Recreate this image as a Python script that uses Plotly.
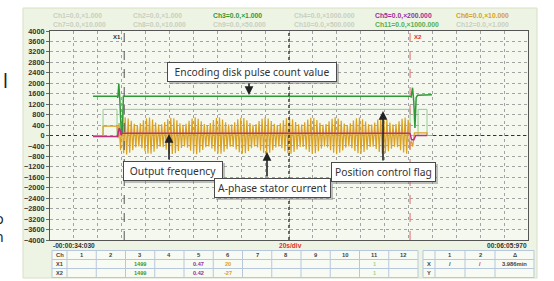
import numpy as np
import plotly.graph_objects as go

# ---------------- data (seconds from left edge of a 400 s window) ----------------
enc_t = [36.0, 56.0, 56.8, 57.6, 58.4, 59.6, 60.6, 61.4, 301.3, 302.2, 303.4, 304.4, 305.4, 306.4, 307.6, 319.6]
enc_v = [1500, 1500, 1450, 1980, 1400, 150, 100, 1500, 1500, 1480, 1830, 1300, 290, 1450, 1540, 1560]

flag_t = [36.0, 44.4, 44.4, 56.1, 56.1, 60.8, 60.8, 301.3, 301.3, 308.0, 308.0, 315.5, 315.5, 319.6]
flag_v = [0, 0, 1000, 1000, 0, 0, 1000, 1000, 0, 0, 1000, 1000, 0, 0]

freq_t = [36.0, 56.6, 57.2, 58.0, 58.8, 59.4, 60.5, 301.3, 302.5, 304.5, 306.0, 315.5]
freq_v = [-40, -40, 150, 280, 200, 20, 90, 90, -160, -160, 0, 0]

cur_pre_t = [36.0, 44.4, 44.4, 56.1, 57.0]
cur_pre_v = [0, 0, 360, 360, -100]
cur_post_t = [301.3, 302.5, 303.5, 305.0, 315.5, 315.5, 319.6]
cur_post_v = [-300, -250, -420, 100, 100, 0, 0]
osc_start, osc_end = 57.8, 301.0
cur_peaks = [
    480, 620, 700, 650, 560, 450, 400, 470,
    580, 660, 690, 610, 500, 420, 430, 520,
    620, 680, 660, 580, 470, 410, 450, 560,
    650, 700, 640, 540, 440, 400, 480, 590,
    670, 690, 610, 510, 420, 420, 510, 620,
    680, 670, 580, 480, 410, 440, 550, 640,
    700, 650, 550, 450, 400, 470, 580, 660,
    690, 620, 520, 430, 420, 510, 610, 680,
    670, 590, 490, 410, 440, 540, 640, 700,
    650, 560, 460, 400, 470, 570, 660, 690,
    620, 530, 430, 420, 500, 610, 680, 670,
    590, 500, 420, 440, 540, 640, 690, 600]
cur_troughs = [
    -560, -680, -730, -660, -560, -460, -420, -490,
    -600, -690, -700, -620, -510, -430, -450, -540,
    -640, -710, -680, -590, -480, -420, -470, -580,
    -670, -720, -650, -550, -450, -420, -500, -610,
    -690, -700, -620, -520, -430, -440, -530, -640,
    -700, -680, -590, -490, -420, -460, -570, -660,
    -720, -660, -560, -460, -420, -490, -600, -680,
    -700, -630, -530, -440, -440, -530, -630, -700,
    -680, -600, -500, -420, -460, -560, -660, -720,
    -660, -570, -470, -420, -490, -590, -680, -700,
    -630, -540, -440, -430, -520, -630, -700, -680,
    -600, -510, -430, -450, -560, -650, -700, -520]

base_t = [0, 36.0, None, 315.5, 400]
base_v = [0, 0, None, 0, 0]

x1_cursor, x2_cursor, center_t = 62.1, 301.3, 200

ch_labels_row1 = ["Ch1=0.0,×1.000", "Ch2=0.0,×1.000", "Ch3=0.0,×1.000",
                  "Ch4=0.0,×1000.000", "Ch5=0.0,×200.000", "Ch6=0.0,×10.000"]
ch_labels_row2 = ["Ch7=0.0,×10.000", "Ch8=0.0,×10.000", "Ch9=0.0,×50.000",
                  "Ch10=0.0,×500.000", "Ch11=0.0,×1000.000", "Ch12=0.0,×1.000"]

table_header = ["Ch"] + [str(i) for i in range(1, 13)]
table_x1 = ["X1", "", "", "1499", "", "0.47", "20", "", "", "", "", "1", ""]
table_x2 = ["X2", "", "", "1499", "", "0.42", "-27", "", "", "", "", "1", ""]
delta_header = ["", "1", "2", "Δ"]
delta_x = ["X", "/", "/", "3.986min"]
delta_y = ["Y", "", "", ""]

# ---------------- geometry ----------------
W, H = 554, 281
L, R, T, B = 50, 26, 31, 41
PW, PH = W - L - R, H - T - B
XR = [0, 400]
YR = [-4000, 4000]

def px(xp):
    return (xp - L) / PW

def py(yp):
    return (H - B - yp) / PH

def dx(xp):
    return XR[0] + (xp - L) / PW * (XR[1] - XR[0])

def dy(yp):
    return YR[1] - (yp - T) / PH * (YR[1] - YR[0])

GREEN = "#2f9a35"
LGREEN = "#8fd08f"
ORANGE = "#d9a024"
MAG = "#c0307a"
PURPLE = "#9a2c9a"
INACT = "#c9cfc1"

osc_t = np.linspace(osc_start, osc_end, 2 * len(cur_peaks))
osc_v = np.empty(2 * len(cur_peaks))
osc_v[0::2] = cur_peaks
osc_v[1::2] = cur_troughs
cur_t = list(cur_pre_t) + list(osc_t) + list(cur_post_t)
cur_v = list(cur_pre_v) + list(osc_v) + list(cur_post_v)

fig = go.Figure()
fig.add_trace(go.Scatter(x=base_t, y=base_v, mode="lines",
                         line=dict(color="#333", width=1, dash="dot"), hoverinfo="skip"))
fig.add_trace(go.Scatter(x=flag_t, y=flag_v, mode="lines",
                         line=dict(color=LGREEN, width=1), hoverinfo="skip"))
fig.add_trace(go.Scatter(x=cur_t, y=cur_v, mode="lines",
                         line=dict(color=ORANGE, width=1.2), hoverinfo="skip"))
fig.add_trace(go.Scatter(x=enc_t, y=enc_v, mode="lines",
                         line=dict(color=GREEN, width=1.5), hoverinfo="skip"))
fig.add_trace(go.Scatter(x=freq_t, y=freq_v, mode="lines",
                         line=dict(color=MAG, width=1.5), hoverinfo="skip"))

shapes = []
# outer panel and plot background
shapes.append(dict(type="rect", xref="paper", yref="paper", x0=px(23), x1=px(537), y0=py(278), y1=py(8),
                   fillcolor="#eef4e3", line=dict(color="#d6e0c6", width=1), layer="below"))
shapes.append(dict(type="rect", xref="paper", yref="paper", x0=0, x1=1, y0=0, y1=1,
                   fillcolor="#f4f8ee", line=dict(width=0), layer="below"))
# cursor / center lines
shapes.append(dict(type="line", xref="x", yref="paper", x0=center_t, x1=center_t, y0=0, y1=1,
                   line=dict(color="#222", width=1.3, dash="dot"), layer="above"))
shapes.append(dict(type="line", xref="x", yref="paper", x0=x1_cursor, x1=x1_cursor, y0=0, y1=1,
                   line=dict(color="#555", width=1, dash="dash"), layer="above"))
shapes.append(dict(type="line", xref="x", yref="paper", x0=x2_cursor, x1=x2_cursor, y0=0, y1=1,
                   line=dict(color="#e58080", width=1.2, dash="dash"), layer="above"))

annotations = []

def txt(xp, yp, text, color="#333", size=7, xanchor="left", bold=True, family="Liberation Sans"):
    annotations.append(dict(xref="paper", yref="paper", x=px(xp), y=py(yp), text=text,
                            showarrow=False, xanchor=xanchor, yanchor="middle",
                            font=dict(family=family, size=size, color=color,
                                      weight="bold" if bold else "normal"),
                            borderpad=0))

# channel header rows
row1_x = [52, 132, 212, 293, 374, 455]
row1_c = [INACT, INACT, GREEN, INACT, PURPLE, ORANGE]
row2_c = [INACT, INACT, INACT, INACT, "#55ad55", INACT]
for xx, t1, c1, t2, c2 in zip(row1_x, ch_labels_row1, row1_c, ch_labels_row2, row2_c):
    txt(xx, 16, t1, c1, 6.8)
    txt(xx, 25.5, t2, c2, 6.8)

# cursor labels
txt(122, 37, "X1", "#333", 6, xanchor="right")
txt(413, 37, "X2", "#d83030", 6)

# time labels
txt(52, 246, "-00:00:34:030", "#333", 6.6)
txt(290, 246, "20s/div", "#e03030", 6.6, xanchor="center")
txt(528, 246, "00:06:05:970", "#333", 6.6, xanchor="right")

# tables
tb_top, rows_h = 250.5, 9
col_edges = [52, 67] + [67 + 29.25 * k for k in range(1, 13)]
shapes.append(dict(type="rect", xref="paper", yref="paper", x0=px(col_edges[0]), x1=px(col_edges[-1]),
                   y0=py(tb_top + 3 * rows_h), y1=py(tb_top), fillcolor="#f8fbf3",
                   line=dict(color="#b7c7dc", width=1), layer="above"))
for e in col_edges[1:-1]:
    shapes.append(dict(type="line", xref="paper", yref="paper", x0=px(e), x1=px(e),
                       y0=py(tb_top + 3 * rows_h), y1=py(tb_top), line=dict(color="#b7c7dc", width=1), layer="above"))
for r in (1, 2):
    shapes.append(dict(type="line", xref="paper", yref="paper", x0=px(col_edges[0]), x1=px(col_edges[-1]),
                       y0=py(tb_top + r * rows_h), y1=py(tb_top + r * rows_h),
                       line=dict(color="#b7c7dc", width=1), layer="above"))
val_colors = {3: GREEN, 5: PURPLE, 6: ORANGE, 11: "#a9cf8f"}
for i in range(13):
    cx = (col_edges[i] + col_edges[i + 1]) / 2
    txt(cx, tb_top + 4.5, table_header[i], "#444", 5.8, xanchor="center")
    for r, row in ((1, table_x1), (2, table_x2)):
        if row[i]:
            col = val_colors.get(i, "#444")
            txt(cx if i else col_edges[0] + 3, tb_top + r * rows_h + 4.5, row[i], col, 5.6,
                xanchor="center" if i else "left")

d_edges = [423, 435, 465, 495, 534]
shapes.append(dict(type="rect", xref="paper", yref="paper", x0=px(d_edges[0]), x1=px(d_edges[-1]),
                   y0=py(tb_top + 3 * rows_h), y1=py(tb_top), fillcolor="#f8fbf3",
                   line=dict(color="#b7c7dc", width=1), layer="above"))
for e in d_edges[1:-1]:
    shapes.append(dict(type="line", xref="paper", yref="paper", x0=px(e), x1=px(e),
                       y0=py(tb_top + 3 * rows_h), y1=py(tb_top), line=dict(color="#b7c7dc", width=1), layer="above"))
for r in (1, 2):
    shapes.append(dict(type="line", xref="paper", yref="paper", x0=px(d_edges[0]), x1=px(d_edges[-1]),
                       y0=py(tb_top + r * rows_h), y1=py(tb_top + r * rows_h),
                       line=dict(color="#b7c7dc", width=1), layer="above"))
for i in range(4):
    cx = (d_edges[i] + d_edges[i + 1]) / 2
    for r, row in ((0, delta_header), (1, delta_x), (2, delta_y)):
        if row[i]:
            col = "#d83030" if (r == 1 and i == 2) else "#444"
            txt(cx, tb_top + r * rows_h + 4.5, row[i], col, 5.8, xanchor="center")

# callout boxes with arrows
callouts = [
    # text, box (x0, y0, x1, y1), arrow tail (x, y), arrow head (x, y)
    ("Encoding disk pulse count value", (167, 62, 337, 82), (249, 82), (249, 95)),
    ("Output frequency", (123, 161, 223, 181), (169, 161), (169, 134)),
    ("A-phase stator current", (214, 178, 331, 198), (267, 178), (267, 152)),
    ("Position control flag", (331, 162, 436, 182), (383, 162), (383, 111)),
]
for text, (bx0, by0, bx1, by1), (tx, ty), (hx, hy) in callouts:
    annotations.append(dict(xref="x", yref="y", x=dx(hx), y=dy(hy), ax=tx - hx, ay=ty - hy,
                            axref="pixel", ayref="pixel", text="", showarrow=True,
                            arrowhead=2, arrowsize=1.1, arrowwidth=1.6, arrowcolor="#222",
                            standoff=0, startstandoff=0))
for text, (bx0, by0, bx1, by1), _, _ in callouts:
    shapes.append(dict(type="rect", xref="paper", yref="paper", x0=px(bx0 + 2), x1=px(bx1 + 2),
                       y0=py(by1 + 2), y1=py(by0 + 2), fillcolor="rgba(120,120,120,0.45)",
                       line=dict(width=0), layer="above"))
    annotations.append(dict(xref="paper", yref="paper", x=px((bx0 + bx1) / 2), y=py((by0 + by1) / 2),
                            text=text, showarrow=False, xanchor="center", yanchor="middle",
                            width=bx1 - bx0 - 2, height=by1 - by0 - 2, borderpad=0,
                            bgcolor="white", bordercolor="#4a4a4a", borderwidth=1,
                            font=dict(family="Noto Sans", size=10.3, color="#333")))

# fragments of surrounding page text at the left edge
annotations.append(dict(xref="paper", yref="paper", x=px(1), y=py(81), text="l", showarrow=False,
                        xanchor="left", yanchor="middle",
                        font=dict(family="Noto Sans", size=19, color="#222")))
annotations.append(dict(xref="paper", yref="paper", x=px(5.5), y=py(227), text="o<br>n", showarrow=False,
                        xanchor="right", yanchor="middle", align="right",
                        font=dict(family="Noto Sans", size=14, color="#222")))

fig.update_layout(
    width=W, height=H, margin=dict(l=L, r=R, t=T, b=B),
    paper_bgcolor="white", plot_bgcolor="rgba(0,0,0,0)",
    showlegend=False, shapes=shapes, annotations=annotations,
    xaxis=dict(range=XR, tick0=0, dtick=20, showticklabels=False, ticks="",
               showgrid=True, gridcolor="#a3a3a3", griddash="dot", gridwidth=1,
               zeroline=False, showline=True, linecolor="#555", linewidth=1, mirror=True),
    yaxis=dict(range=YR, tick0=-4000, dtick=400, ticks="outside", ticklen=3, tickcolor="#666",
               tickfont=dict(family="Liberation Sans", size=7.3, color="#333", weight="bold"),
               showgrid=True, gridcolor="#a3a3a3", griddash="dot", gridwidth=1,
               zeroline=False, showline=True, linecolor="#555", linewidth=1, mirror=True),
)

fig.write_html("out.html", config={"displayModeBar": False},
               post_script="document.body.style.margin='0px';")
